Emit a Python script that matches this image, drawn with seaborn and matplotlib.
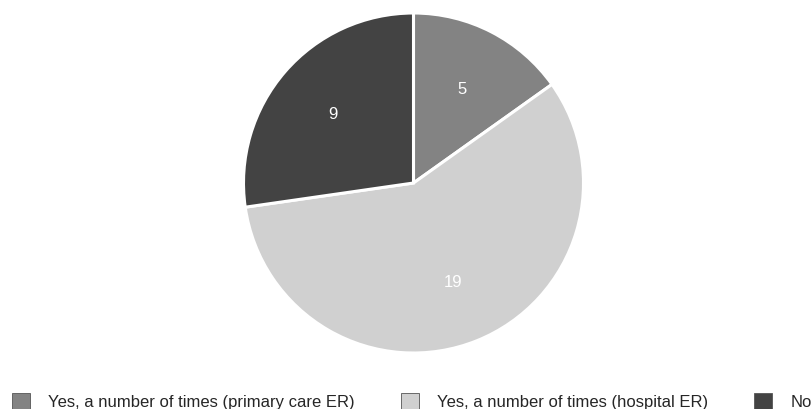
import matplotlib
matplotlib.use("Agg")
import matplotlib.pyplot as plt
from matplotlib.patches import Patch
import seaborn as sns

# Data
categories = [
    "Yes, a number of times (primary care ER)",
    "Yes, a number of times (hospital ER)",
    "No",
]
counts = [5, 19, 9]
colors = ["#838383", "#d0d0d0", "#434343"]

sns.set_theme(style="white")
plt.rcParams["font.family"] = ["Liberation Sans", "DejaVu Sans"]

fig = plt.figure(figsize=(8.11, 4.10), dpi=100)
W, H = 811, 410
cx, cy, r = 413.5, 184, 170
ax = fig.add_axes([(cx - r) / W, (H - cy - r) / H, 2 * r / W, 2 * r / H])

wedges, texts, autotexts = ax.pie(
    counts,
    colors=colors,
    startangle=90,
    counterclock=False,
    autopct=lambda p: f"{round(p * sum(counts) / 100):d}",
    pctdistance=0.625,
    wedgeprops=dict(edgecolor="white", linewidth=2.2),
    textprops=dict(color="white", fontsize=12),
)
ax.set_xlim(-1, 1)
ax.set_ylim(-1, 1)
ax.set_aspect("equal")
ax.axis("off")

handles = [Patch(facecolor=c, edgecolor="#555555", linewidth=0.6) for c in colors]
fig.legend(
    handles, categories,
    loc="center left",
    bbox_to_anchor=(12 / W, 1 - 402 / H),
    ncol=3,
    frameon=False,
    fontsize=12,
    handlelength=1.1,
    handleheight=1.15,
    handletextpad=1.08,
    columnspacing=2.75,
    borderpad=0,
    borderaxespad=0,
)

fig.savefig("out.png", dpi=100)
